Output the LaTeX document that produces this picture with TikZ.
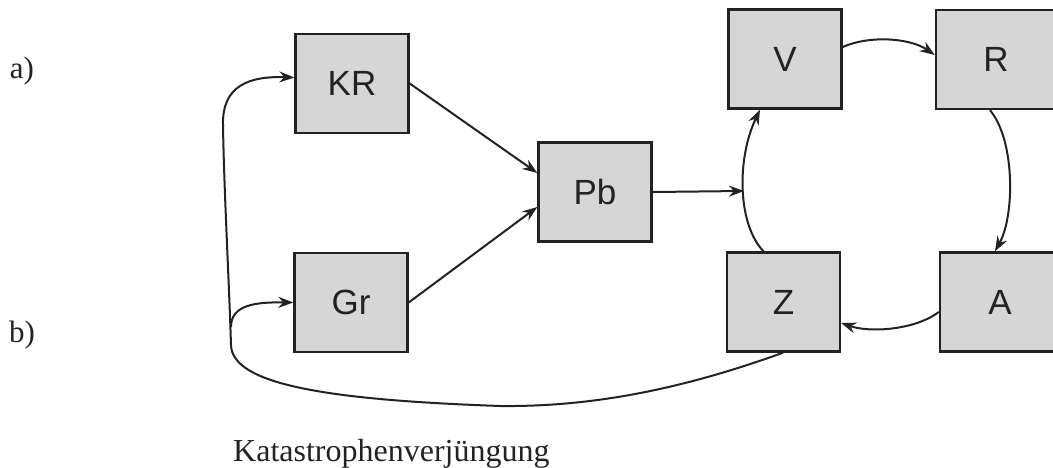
\documentclass[tikz,border=0pt]{standalone}
\usepackage{fontspec}
\setmainfont{Liberation Serif}
\newfontfamily\boxfont{Liberation Sans}
\usetikzlibrary{arrows.meta}
\definecolor{boxfill}{RGB}{214,214,214}
\definecolor{ink}{RGB}{34,34,34}
\begin{document}
\begin{tikzpicture}[x=1pt,y=-1pt,
  stage/.style={draw=ink,line width=2.4pt,fill=boxfill,minimum width=113pt,
    minimum height=99pt,inner sep=0pt,text=ink,
    font=\boxfont\fontsize{35}{38}\selectfont},
  wide/.style={minimum width=120pt},
  link/.style={draw=ink,line width=2pt,
    -{Stealth[length=15pt,width=11pt,inset=5pt]}},
  tag/.style={font=\fontsize{31}{34}\selectfont,text=ink,inner sep=0pt}]
\useasboundingbox (0,0) rectangle (1053,468);

% stages
\node[stage] (KR) at (352,83.5) {KR};
\node[stage] (Gr) at (351,302.5) {Gr};
\node[stage] (Pb) at (595,192) {Pb};
\node[stage] (V) at (785,59) {V};
\node[stage,wide] (R) at (996,59.5) {R};
\node[stage] (Z) at (783.5,302) {Z};
\node[stage,wide] (A) at (1000,302) {A};

% inputs into Pb
\draw[link] (KR.east) -- ([yshift=19pt]Pb.west);
\draw[link] (Gr.east) -- ([yshift=-15pt]Pb.west);

% the cycle V -> R -> A -> Z -> V
\draw[link] ([xshift=-20pt]Z.north) .. controls (738,225) and (736,160) .. ([xshift=-25pt]V.south);
\coordinate (ring) at (744,191);
\draw[link] (Pb.east) -- (ring);
\draw[link] ([yshift=12pt]V.east) .. controls (870,35) and (910,38) .. ([yshift=4.5pt]R.west);
\draw[link] ([xshift=-6pt]R.south) .. controls (1015,140) and (1015,215) .. ([xshift=-5pt]A.north);
\draw[link] ([yshift=-10pt]A.west) .. controls (915,330) and (870,333) .. ([yshift=-21pt]Z.east);

% feedback from Z back to KR and Gr
\draw[link] ([xshift=-0.5pt]Z.south) .. controls (680,390) and (590,407) .. (500,406)
  .. controls (330,400) and (232,385) .. (231,345)
  .. controls (229,280) and (224,190) .. (223,125)
  .. controls (222,85) and (250,76) .. ([yshift=6pt]KR.west);
\coordinate (split) at (231,327);
\draw[link] (split) .. controls (231,305) and (255,302) .. (Gr.west);

% labels
\node[tag] (la) at (22,71) {a)};
\node[tag] (lb) at (22,335) {b)};
\node[tag,font=\fontsize{32}{35}\selectfont,anchor=base west] (cap) at (233,461) {Katastrophenverjüngung};
\end{tikzpicture}
\end{document}
